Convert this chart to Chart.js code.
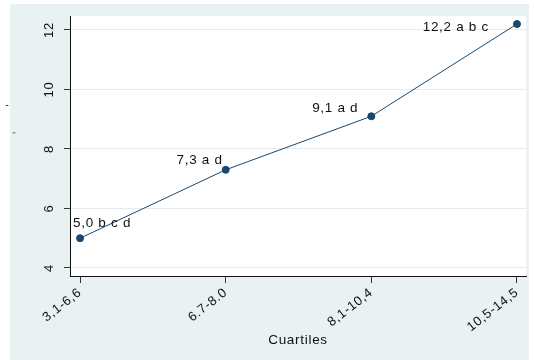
<!DOCTYPE html>
<html><head><meta charset="utf-8">
<script src="https://cdn.jsdelivr.net/npm/chart.js@4/dist/chart.umd.min.js"></script>
<style>html,body{margin:0;padding:0;background:#fff}</style>
</head><body>
<canvas id="c" width="534" height="360"></canvas>
<script>
const categories = ["3,1-6,6", "6.7-8.0", "8,1-10,4", "10,5-14,5"];
const values = [5.0, 7.3, 9.1, 12.2];
const pointLabels = ["5,0 b c d", "7,3 a d", "9,1 a d", "12,2 a b c"];
const yTicks = [4, 6, 8, 10, 12];
const xTitle = "Cuartiles";
const yTitle = ",       '";

const FONT = "'Liberation Sans', Arial, sans-serif";
const BG = '#eaf1f3';
const NAVY = '#1a476f';
const SPACING = '0.7px';
// label placement styles (offsets from point, px)
const labelStyle = [
  {dx: -7, dy: -15, align: 'left'},
  {dx: -3, dy: -10, align: 'right'},
  {dx: -13, dy: -8, align: 'right'},
  {dx: -28, dy: 3, align: 'right'}
];

const bgPlugin = {
  id: 'bg',
  beforeDraw(chart) {
    const ctx = chart.ctx, a = chart.chartArea;
    ctx.save();
    ctx.fillStyle = '#fff'; ctx.fillRect(0, 0, 534, 360);
    ctx.fillStyle = BG; ctx.fillRect(10, 4, 519, 356);
    ctx.fillStyle = '#fff'; ctx.fillRect(a.left, a.top, a.right - a.left, a.bottom - a.top);
    ctx.restore();
    ctx.letterSpacing = SPACING;
  },
  afterDraw(chart) {
    const ctx = chart.ctx, ys = chart.scales.y;
    ctx.save();
    ctx.letterSpacing = SPACING;
    ctx.fillStyle = '#111';
    ctx.font = '13px ' + FONT;
    ctx.textAlign = 'center'; ctx.textBaseline = 'middle';
    yTicks.forEach(v => {
      const py = ys.getPixelForValue(v);
      ctx.save(); ctx.translate(49, py); ctx.rotate(-Math.PI / 2);
      ctx.fillText(String(v), 0, 0); ctx.restore();
    });
    ctx.font = '10px ' + FONT;
    ctx.save(); ctx.translate(11, 119); ctx.rotate(-Math.PI / 2);
    ctx.fillText(yTitle, 0, 0); ctx.restore();
    const meta = chart.getDatasetMeta(0);
    ctx.font = '13.5px ' + FONT;
    ctx.fillStyle = '#111';
    meta.data.forEach((pt, i) => {
      const s = labelStyle[i];
      ctx.textAlign = s.align;
      ctx.fillText(pointLabels[i], pt.x + s.dx, pt.y + s.dy);
    });
    ctx.restore();
  }
};

new Chart(document.getElementById('c'), {
  type: 'line',
  data: {
    datasets: [{
      data: values.map((v, i) => ({x: i, y: v})),
      borderColor: NAVY, borderWidth: 1,
      pointBackgroundColor: NAVY, pointBorderColor: NAVY,
      pointRadius: 3.5, tension: 0, fill: false
    }]
  },
  options: {
    responsive: false, animation: false,
    layout: {padding: {top: 16, right: 8, left: 0, bottom: 0}},
    plugins: {legend: {display: false}, tooltip: {enabled: false}},
    scales: {
      x: {
        type: 'linear', min: -0.069, max: 3.062,
        afterBuildTicks: s => { s.ticks = categories.map((c, i) => ({value: i})); },
        ticks: {
          callback: v => categories[v], minRotation: 38, maxRotation: 38, autoSkip: false,
          font: {family: FONT, size: 13}, color: '#111', padding: 2
        },
        grid: {drawOnChartArea: false, drawTicks: true, tickLength: 7, tickColor: '#333'},
        border: {display: true, color: '#111', width: 1},
        title: {display: true, text: xTitle, font: {family: FONT, size: 13.5}, color: '#111', padding: {top: 4, bottom: 12}},
        afterFit: s => { s.height = 84; }
      },
      y: {
        min: 3.73, max: 12.47,
        afterBuildTicks: s => { s.ticks = yTicks.map(v => ({value: v})); },
        ticks: {display: false},
        grid: {color: '#e4ecef', tickLength: 6, tickColor: '#333', drawTicks: true},
        border: {display: true, color: '#111', width: 1},
        afterFit: s => { s.width = 70; }
      }
    }
  },
  plugins: [bgPlugin]
});
</script>
</body></html>
